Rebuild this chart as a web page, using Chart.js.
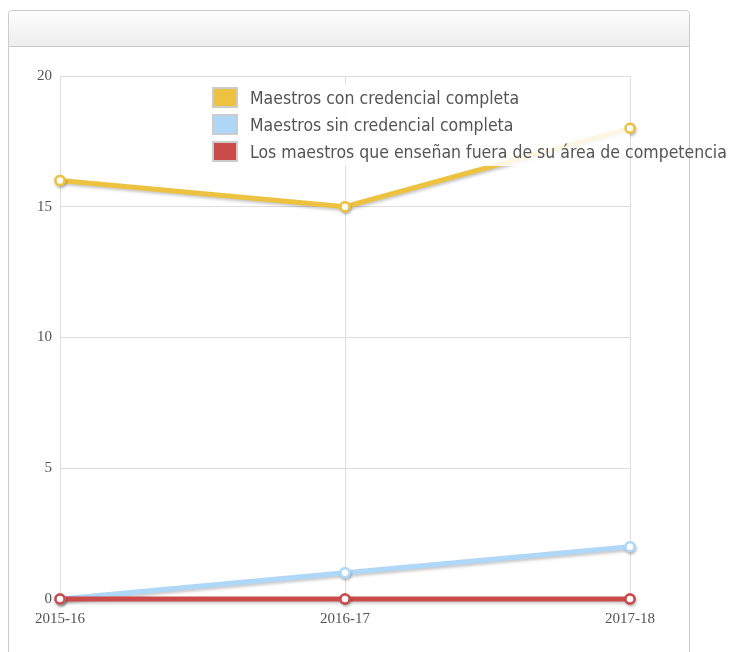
<!DOCTYPE html>
<html>
<head>
<meta charset="utf-8">
<script src="https://cdn.jsdelivr.net/npm/chart.js@4/dist/chart.umd.min.js"></script>
<style>
  body { margin:0; background:#fff; width:730px; height:652px; overflow:hidden; position:relative; }
  .panel { position:absolute; left:8px; top:10px; width:680px; height:700px; border:1px solid #ccc; border-radius:4px; }
  .panel-head { height:35px; border-bottom:1px solid #ccc; background:linear-gradient(#fdfdfd,#ededed); border-radius:4px 4px 0 0; }
  #chart { position:absolute; left:0; top:0; }
  .legend { position:absolute; left:212px; top:86px; font-family:"DejaVu Sans Condensed","DejaVu Sans",sans-serif; font-size:17.5px; color:#545454; }
  .legend div { height:27px; line-height:24px; white-space:nowrap; }
  .legend span.box { display:inline-block; width:22px; height:17px; border:2px solid #ccc; vertical-align:-4px; margin-right:12px; }
</style>
</head>
<body>
<div class="panel"><div class="panel-head"></div></div>
<canvas id="chart" width="730" height="652"></canvas>
<div class="legend" id="legend"></div>
<script>
// Datos del grafico
const years = ['2015-16', '2016-17', '2017-18'];
const conCredencial = [16, 15, 18];
const sinCredencial = [0, 1, 2];
const fueraDeArea = [0, 0, 0];
const yTicks = [0, 5, 10, 15, 20];

const seriesNames = [
  'Maestros con credencial completa',
  'Maestros sin credencial completa',
  'Los maestros que enseñan fuera de su área de competencia'
];
const seriesColors = ['#edc240', '#afd8f8', '#cb4b4b'];

// Leyenda en HTML (como flot)
const legend = document.getElementById('legend');
seriesNames.forEach((name, i) => {
  const row = document.createElement('div');
  const box = document.createElement('span');
  box.className = 'box';
  box.style.background = seriesColors[i];
  row.appendChild(box);
  row.appendChild(document.createTextNode(name));
  legend.appendChild(row);
});

// Sombra de las lineas
const shadowPlugin = {
  id: 'shadow',
  beforeDatasetDraw(chart){
    const ctx = chart.ctx;
    ctx.save();
    ctx.shadowColor = 'rgba(0,0,0,0.22)';
    ctx.shadowBlur = 3;
    ctx.shadowOffsetX = 1;
    ctx.shadowOffsetY = 2;
  },
  afterDatasetDraw(chart){
    chart.ctx.restore();
  }
};

// Fondo semitransparente de la leyenda, luego repintar los puntos encima
const legendBgPlugin = {
  id: 'legendBg',
  afterDatasetsDraw(chart){
    const ctx = chart.ctx;
    const area = chart.chartArea;
    ctx.save();
    ctx.fillStyle = 'rgba(255,255,255,0.85)';
    ctx.fillRect(208, 84, area.right - 208, 82);
    ctx.restore();
    chart.getSortedVisibleDatasetMetas().slice().reverse().forEach(meta => {
      meta.data.forEach(pt => pt.draw(ctx, area));
    });
  }
};

function makeSet(label, data, color, order){
  return {
    label, data, order,
    borderColor: color,
    backgroundColor: '#fff',
    pointBorderColor: color,
    pointBackgroundColor: '#fff',
    borderWidth: 5,
    pointRadius: 4.5,
    pointBorderWidth: 2.5,
    tension: 0
  };
}

new Chart(document.getElementById('chart'), {
  type: 'line',
  data: {
    labels: years,
    datasets: [
      makeSet(seriesNames[0], conCredencial, seriesColors[0], 3),
      makeSet(seriesNames[1], sinCredencial, seriesColors[1], 2),
      makeSet(seriesNames[2], fueraDeArea, seriesColors[2], 1)
    ]
  },
  options: {
    responsive: false,
    animation: false,
    clip: false,
    layout: { padding: { top: 76, right: 100, left: 0, bottom: 0 } },
    plugins: { legend: { display: false }, tooltip: { enabled: false } },
    scales: {
      x: {
        offset: false,
        grid: { color: '#dedede', drawTicks: false },
        border: { color: '#dedede' },
        ticks: { font: { family: '"Liberation Serif", serif', size: 15 }, color: '#545454', padding: 11, maxRotation: 0 },
        afterFit(scale){ scale.height = 53; }
      },
      y: {
        min: 0, max: 20,
        afterBuildTicks(scale){ scale.ticks = yTicks.map(v => ({ value: v })); },
        grid: { color: '#dedede', drawTicks: false },
        border: { color: '#dedede' },
        ticks: { font: { family: '"Liberation Serif", serif', size: 15 }, color: '#545454', padding: 8 },
        afterFit(scale){ scale.width = 60; }
      }
    }
  },
  plugins: [shadowPlugin, legendBgPlugin]
});
</script>
</body>
</html>
